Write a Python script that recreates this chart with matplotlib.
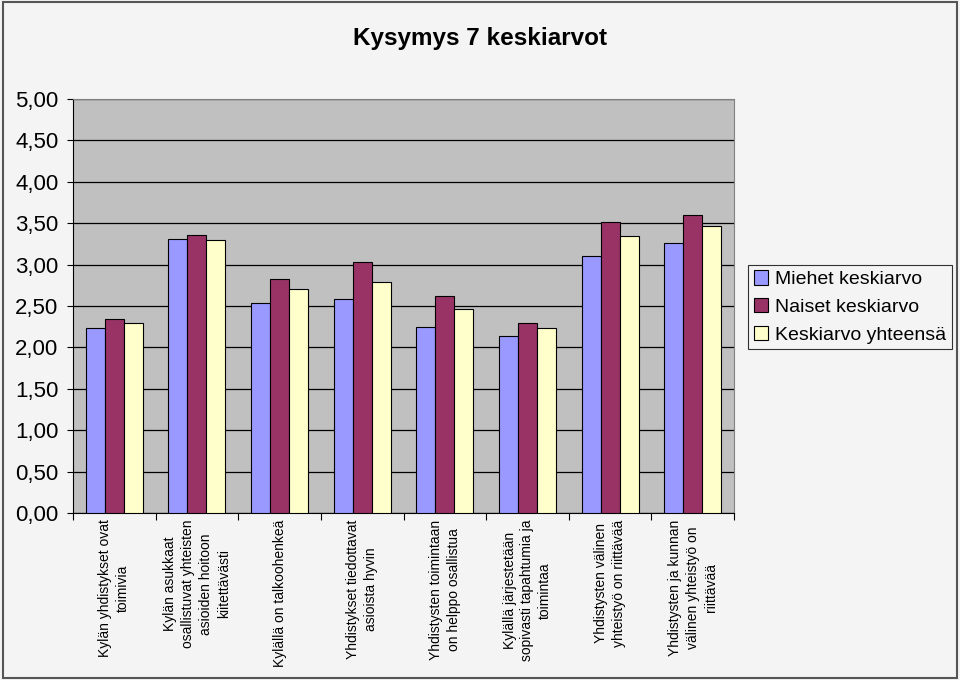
import numpy as np
import matplotlib
matplotlib.use("Agg")
import matplotlib.pyplot as plt
from matplotlib.patches import Rectangle

plt.rcParams['font.family'] = ['Liberation Sans', 'DejaVu Sans']

# Data
categories = [
    "Kylän yhdistykset ovat\ntoimivia",
    "Kylän asukkaat\nosallistuvat yhteisten\nasioiden hoitoon\nkiitettävästi",
    "Kylällä on talkoohenkeä",
    "Yhdistykset tiedottavat\nasioista hyvin",
    "Yhdistysten toimintaan\non helppo osallistua",
    "Kylällä järjestetään\nsopivasti tapahtumia ja\ntoimintaa",
    "Yhdistysten välinen\nyhteistyö on riittävää",
    "Yhdistysten ja kunnan\nvälinen yhteistyö on\nriittävää",
]
series_names = ["Miehet keskiarvo", "Naiset keskiarvo", "Keskiarvo yhteensä"]
miehet = [2.23, 3.31, 2.54, 2.59, 2.25, 2.14, 3.10, 3.26]
naiset = [2.34, 3.36, 2.83, 3.03, 2.62, 2.30, 3.51, 3.60]
yhteensa = [2.30, 3.30, 2.71, 2.79, 2.46, 2.23, 3.35, 3.47]
colors = ["#9999FF", "#993366", "#FFFFCC"]
yticks = [0, 0.5, 1, 1.5, 2, 2.5, 3, 3.5, 4, 4.5, 5]

fig = plt.figure(figsize=(9.6, 6.8), dpi=100, facecolor="#F4F4F4")
fig.patches.append(Rectangle((0.003, 0.003), 0.994, 0.994, transform=fig.transFigure,
                             fill=False, edgecolor="#555555", linewidth=1.5))

ax = fig.add_axes([73 / 960, 1 - 513 / 680, (734 - 73) / 960, (513 - 99) / 680])
ax.set_facecolor("#C0C0C0")

x = np.arange(len(categories))
w = 0.23
for i, (vals, name) in enumerate(zip([miehet, naiset, yhteensa], series_names)):
    ax.bar(x + (i - 1) * w, vals, width=w, color=colors[i], edgecolor="black",
           linewidth=0.8, label=name, zorder=3)

ax.set_ylim(0, 5)
ax.set_xlim(-0.5, len(categories) - 0.5)
ax.set_yticks(yticks)
ax.set_yticklabels([f"{v:.2f}".replace(".", ",") for v in yticks], fontsize=16)
ax.yaxis.grid(True, color="black", linewidth=0.9, zorder=1)
ax.tick_params(axis="y", length=4.5, width=0.8, pad=6)

ax.set_xticks(np.arange(len(categories) + 1) - 0.5)
ax.set_xticklabels([])
ax.tick_params(axis="x", length=5, width=0.8)
for xi, lab in zip(x, categories):
    ax.text(xi, -0.08, lab, rotation=90, ha="center", va="top", fontsize=10,
            multialignment="center", linespacing=1.35)

for s in ["top", "right"]:
    ax.spines[s].set_color("#808080")
for s in ["left", "bottom"]:
    ax.spines[s].set_color("black")

fig.text(0.5, 1 - 38 / 680, "Kysymys 7 keskiarvot", ha="center", va="center",
         fontsize=17.5, fontweight="bold")

leg = fig.legend(loc="center left", bbox_to_anchor=(748 / 960, 1 - 307 / 680),
                 fontsize=14, frameon=True, fancybox=False, handlelength=0.75,
                 handleheight=0.75, handletextpad=0.35, labelspacing=0.5,
                 borderpad=0.3, borderaxespad=0)
leg.get_frame().set_edgecolor("black")
leg.get_frame().set_facecolor("#F4F4F4")
leg.get_frame().set_linewidth(0.8)

fig.savefig("out.png", dpi=100, facecolor=fig.get_facecolor())
